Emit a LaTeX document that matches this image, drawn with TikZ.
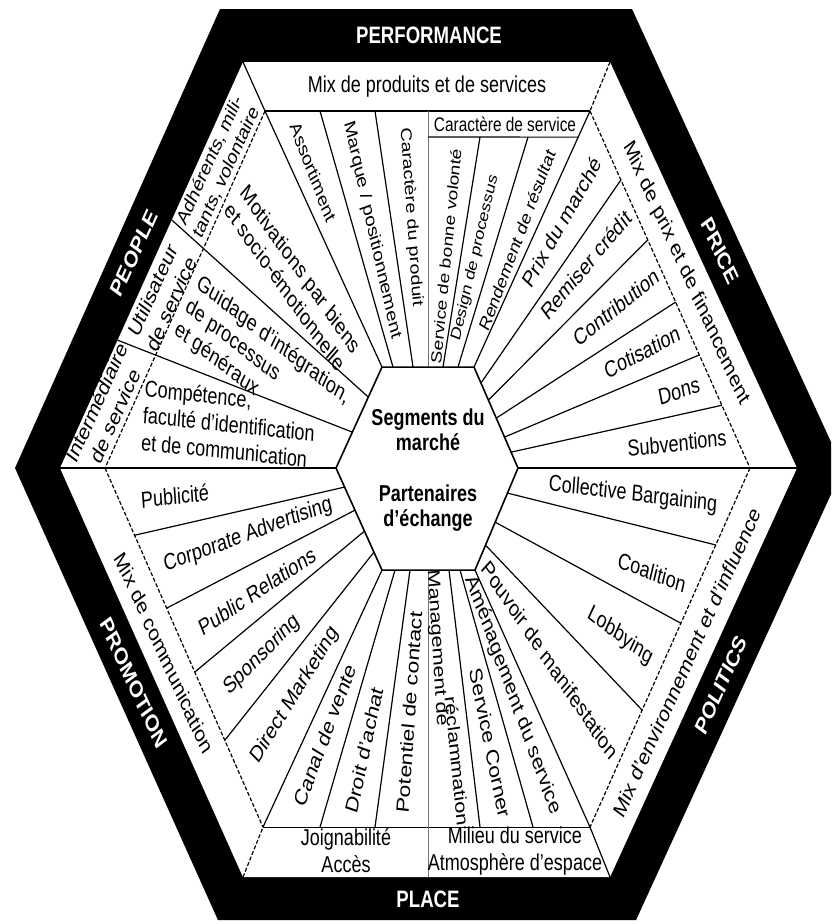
\documentclass[tikz,border=0pt]{standalone}
\usepackage{fontspec}
\setmainfont{Liberation Sans}
\usetikzlibrary{calc}
\begin{document}
\begin{tikzpicture}[x=0.5pt,y=-0.391543pt,yscale=1.277,transform shape,
  lab/.style={font=\fontsize{9}{10.5}\selectfont,inner sep=0pt,align=center},
  smalllab/.style={font=\fontsize{7.7}{9}\selectfont,inner sep=0pt,align=center},
  ttl/.style={font=\bfseries\fontsize{9.3}{11}\selectfont,text=white,inner sep=0pt},
  ctr/.style={font=\bfseries\fontsize{9}{10}\selectfont,inner sep=0pt,align=center},
  srot/.style={rotate={atan2(sin(#1)/1.277,cos(#1))}},
  thinline/.style={line width=0.6pt},
  dashline/.style={line width=0.6pt,dash pattern=on 2pt off 1pt},
  axisline/.style={line width=0.4pt,draw=black!55},
  midline/.style={line width=1.2pt},
]
\useasboundingbox (0,0) rectangle (831,924);
\clip (0,0) rectangle (831,924);
\fill[white] (0,0) rectangle (831,924);
% outer hexagon
\coordinate (o1) at (220,9);  \coordinate (o2) at (632,9);  \coordinate (o3) at (843,468);
\coordinate (o4) at (636,920); \coordinate (o5) at (218,920); \coordinate (o6) at (15,468);
% inner hexagon
\coordinate (i1) at (243,62);  \coordinate (i2) at (610,62);  \coordinate (i3) at (797,468);
\coordinate (i4) at (610,877); \coordinate (i5) at (243,877); \coordinate (i6) at (60,468);
% middle hexagon
\coordinate (m1) at (265,111); \coordinate (m2) at (590,111); \coordinate (m3) at (750,468);
\coordinate (m4) at (590,827); \coordinate (m5) at (263,827); \coordinate (m6) at (105,468);
% centre hexagon
\coordinate (c1) at (382,367); \coordinate (c2) at (474,367); \coordinate (c3) at (518,468);
\coordinate (c4) at (475,570); \coordinate (c5) at (382,570); \coordinate (c6) at (336,468);

\fill[black] (o1)--(o2)--(o3)--(o4)--(o5)--(o6)--cycle;
\fill[white] (i1)--(i2)--(i3)--(i4)--(i5)--(i6)--cycle;

% ring
\draw[thinline] (m1)--(m2);
\draw[thinline] (m5)--(m4);
\draw[thinline] (i1)--(m1);
\draw[dashline] (i2)--(m2);
\draw[thinline] (i4)--(m4);
\draw[dashline] (i5)--(m5);
\draw[dashline] (m1)--(m6);
\draw[dashline] (m2)--(m3);
\draw[dashline] (m3)--(m4);
\draw[dashline] (m6)--(m5);
\draw[midline] (i6)--(c6);
\draw[midline] (c3)--(i3);
% vertical axis
\coordinate (vt) at (428,111); \coordinate (vb) at (428,877);
\coordinate (vc1) at (428,367); \coordinate (vc2) at (428,570);
\draw[axisline] (vt)--(vc1);
\draw[axisline] (vc2)--(vb);
% caractere de service box
\coordinate (bx1) at (428,137);
\coordinate (bx2) at ($(c2)!0.898!(m2)$);
\draw[thinline] (bx1)--(bx2);

% performance spokes
\coordinate (p1i) at (393,367); \coordinate (p1o) at (320,111);
\coordinate (p2i) at (413,367); \coordinate (p2o) at (375,111);
\coordinate (p3i) at (443,367); \coordinate (p3o) at (480,137);
\coordinate (p4i) at (458,367); \coordinate (p4o) at (528,137);
\draw[thinline] (c1)--(m1);
\draw[thinline] (p1i)--(p1o);
\draw[thinline] (p2i)--(p2o);
\draw[thinline] (p3i)--(p3o);
\draw[thinline] (p4i)--(p4o);
\draw[thinline] (c2)--(m2);
% price spokes
\foreach \n/\t/\s in {1/0.158/0.193,2/0.327/0.361,3/0.505/0.535,4/0.693/0.683,5/0.842/0.824}{
  \coordinate (r\n i) at ($(c2)!\t!(c3)$);
  \coordinate (r\n o) at ($(m2)!\s!(m3)$);
  \draw[thinline] (r\n i)--(r\n o);
}
% politics spokes
\foreach \n/\t/\s in {1/0.245/0.214,2/0.53/0.432,3/0.755/0.674}{
  \coordinate (q\n i) at ($(c3)!\t!(c4)$);
  \coordinate (q\n o) at ($(m3)!\s!(m4)$);
  \draw[thinline] (q\n i)--(q\n o);
}
\draw[thinline] (c4)--(m4);
% place spokes
\coordinate (b1i) at (449,570); \coordinate (b1o) at (480,827);
\coordinate (b2i) at (460,570); \coordinate (b2o) at (533,827);
\coordinate (b4i) at (410,570); \coordinate (b4o) at (375,827);
\coordinate (b5i) at (395,570); \coordinate (b5o) at (320,827);
\draw[thinline] (b1i)--(b1o);
\draw[thinline] (b2i)--(b2o);
\draw[thinline] (b4i)--(b4o);
\draw[thinline] (b5i)--(b5o);
\draw[thinline] (c5)--(m5);
% promotion spokes
\foreach \n/\t/\s in {1/0.186/0.187,2/0.412/0.39,3/0.618/0.568,4/0.824/0.758}{
  \coordinate (k\n i) at ($(c6)!\t!(c5)$);
  \coordinate (k\n o) at ($(m6)!\s!(m5)$);
  \draw[thinline] (k\n i)--(k\n o);
}
% people spokes
\coordinate (u1i) at ($(c1)!0.297!(c6)$); \coordinate (u1o) at ($(i1)!0.389!(i6)$);
\coordinate (u2i) at ($(c1)!0.644!(c6)$); \coordinate (u2o) at ($(i1)!0.685!(i6)$);
\draw[thinline] (u1i)--(u1o);
\draw[thinline] (u2i)--(u2o);

% centre hexagon
\draw[line width=0.8pt,fill=white] (c1)--(c2)--(c3)--(c4)--(c5)--(c6)--cycle;
\node[ctr] (seg) at (428,430) {Segments du\\marché};
\node[ctr] (par) at (428,508) {Partenaires\\d'échange};

% titles
\node[ttl] (tperf) at (429,35) {PERFORMANCE};
\node[ttl,srot=-65.6] (tprice) at (720,251) {PRICE};
\node[ttl,srot=65.6] (tpol) at (721,685) {POLITICS};
\node[ttl] (tplace) at (428,899) {PLACE};
\node[ttl,srot=-65.6] (tpromo) at (134,683) {PROMOTION};
\node[ttl,srot=65.6] (tpeople) at (134,253) {PEOPLE};

% ring labels
\node[lab] (rtop) at (427,87) {Mix de produits et de services};
\node[lab,srot=-65.6] (rprice) at (686,273) {Mix de prix et de financement};
\node[lab,srot=65.6] (rpol) at (687,662) {Mix d'environnement et d'influence};
\node[lab,srot=-65.6] (rpromo) at (164,653) {Mix de communication};
\node[lab] (racc) at (346,851) {Joignabilité\\Accès};
\node[lab] (rmil) at (515,851) {Milieu du service\\Atmosphère d'espace};
\node[lab,font=\fontsize{8.2}{9.3}\selectfont,srot=65.6] (radh) at (218,166) {Adhérents, mili-\\tants, volontaire};
\node[lab,srot=65.6] (ruti) at (162,297) {Utilisateur\\de service};
\node[lab,srot=65.6] (rint) at (106,409) {Intermédiaire\\de service};
\node[smalllab] (rcar) at (505,124) {Caractère de service};

% performance labels
\node[smalllab,font=\fontsize{8}{9}\selectfont,srot=-69] (tass) at (313,172) {Assortiment};
\node[smalllab,font=\fontsize{8}{9}\selectfont,srot=-77.5] (tmar) at (372,230) {Marque / positionnement};
\node[smalllab,srot=-86] (tcarp) at (411,217) {Caractère du produit};
\node[smalllab,font=\fontsize{7.5}{9}\selectfont,srot=84.5] (tsbv) at (446,256) {Service de bonne volonté};
\node[smalllab,font=\fontsize{7.2}{9}\selectfont,srot=77] (tdes) at (475,258) {Design de processus};
\node[smalllab,srot=69.3] (tren) at (517,240) {Rendement de résultat};
% price labels
\node[lab,srot=60.5] (tprix) at (562,222) {Prix du marché};
\node[lab,srot=50.2] (trem) at (586,265) {Remiser crédit};
\node[lab,srot=39] (tcon) at (616,307) {Contribution};
\node[lab,srot=27.8] (tcot) at (642,352) {Cotisation};
\node[lab,srot=17.7] (tdon) at (679,391) {Dons};
\node[lab,srot=6.3] (tsub) at (677,443) {Subventions};
% politics labels
\node[lab,srot=-7] (tcol) at (633,495) {Collective Bargaining};
\node[lab,srot=-21] (tcoa) at (652,572) {Coalition};
\node[lab,srot=-37.5] (tlob) at (620,636) {Lobbying};
\node[lab,srot=-56] (tpou) at (550,660) {Pouvoir de manifestation};
% place labels
\node[lab,srot=-70] (tame) at (513,695) {Aménagement du service};
\node[lab,srot=-78.6] (tsco) at (490,743) {Service Corner};
\node[lab,font=\fontsize{8.5}{10}\selectfont,srot=-86.5] (tman1) at (437,648) {Management de};
\node[lab,font=\fontsize{8.5}{10}\selectfont,srot=-84.5] (tman2) at (457,761) {réclammation};
\node[lab,srot=86.1] (tpot) at (409,712) {Potentiel de contact};
\node[lab,srot=78] (tdro) at (364,750) {Droit d'achat};
\node[lab,srot=69.5] (tcan) at (325,735) {Canal de vente};
% promotion labels
\node[lab,srot=58.4] (tdir) at (295,695) {Direct Marketing};
\node[lab,srot=45.6] (tspo) at (262,655) {Sponsoring};
\node[lab,srot=33.6] (tpub) at (257,591) {Public Relations};
\node[lab,srot=20.2] (tcor) at (248,535) {Corporate Advertising};
\node[lab,srot=6.5] (tpubl) at (175,496) {Publicité};
% people labels
\node[lab,srot=-54.8,align=left] (tmot) at (293,278) {Motivations par biens\\et socio-émotionnelle};
\node[lab,srot=-38,align=left] (tgui) at (262,364) {Guidage d'intégration,\\de processus\\et généraux};
\node[lab,srot=-6,align=left] (tcom) at (229,424) {Compétence,\\faculté d'identification\\et de communication};
\end{tikzpicture}
\end{document}
